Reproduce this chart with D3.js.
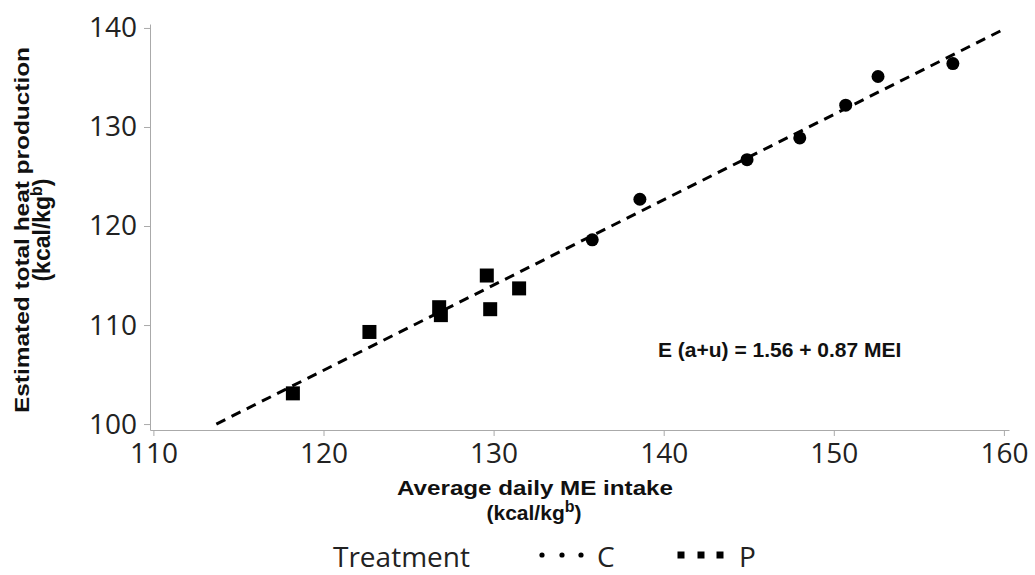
<!DOCTYPE html>
<html>
<head>
<meta charset="utf-8">
<script src="https://cdn.jsdelivr.net/npm/d3@7"></script>
<style>
  body { margin: 0; background: #fff; }
  .axis path, .axis line { stroke: #aaa; }
  .axis text { font-family: "Open Sans", sans-serif; font-size: 28px; fill: #222; }
  .title { font-family: "Liberation Sans", Arial, sans-serif; font-weight: bold; font-size: 21px; fill: #111; }
</style>
</head>
<body>
<div id="chart"></div>
<script>
// treatment C (circles)
const cIntake = [135.8, 138.6, 144.9, 148.0, 150.7, 152.6, 157.0];
const cHeat   = [118.6, 122.7, 126.7, 128.9, 132.2, 135.1, 136.4];
// treatment P (squares)
const pIntake = [118.2, 122.7, 126.8, 126.9, 129.6, 129.8, 131.5];
const pHeat   = [103.1, 109.3, 111.8, 111.0, 115.0, 111.6, 113.7];
// fitted line end points
const fitX = [113.7, 159.8];
const fitY = [100.0, 139.7];
const xTicks = [110, 120, 130, 140, 150, 160];
const yTicks = [100, 110, 120, 130, 140];

const width = 1035, height = 575;

const svg = d3.select("#chart")
  .append("svg")
    .attr("width", width)
    .attr("height", height);

const x = d3.scaleLinear().domain([109.8, 160.3]).range([150, 1009]);
const y = d3.scaleLinear().domain([99.4, 140.4]).range([430, 24]);

// axes
svg.append("g")
  .attr("class", "axis")
  .attr("transform", "translate(0,430)")
  .call(d3.axisBottom(x).tickValues(xTicks).tickSize(6).tickSizeOuter(0).tickPadding(7));

svg.append("g")
  .attr("class", "axis")
  .attr("transform", "translate(150,0)")
  .call(d3.axisLeft(y).tickValues(yTicks).tickSize(6).tickSizeOuter(0).tickPadding(7));

// dashed fit line
const fit = fitX.map(function (d, i) { return [d, fitY[i]]; });
svg.append("path")
  .datum(fit)
  .attr("fill", "none")
  .attr("stroke", "#000")
  .attr("stroke-width", 3)
  .attr("stroke-dasharray", "10,7")
  .attr("d", d3.line().x(function (d) { return x(d[0]); }).y(function (d) { return y(d[1]); }));

// circles
svg.selectAll(".ptC")
  .data(cIntake)
  .enter().append("circle")
  .attr("class", "ptC")
  .attr("cx", function (d) { return x(d); })
  .attr("cy", function (d, i) { return y(cHeat[i]); })
  .attr("r", 6.5)
  .attr("fill", "#000");

// squares
const sq = 14;
svg.selectAll(".ptP")
  .data(pIntake)
  .enter().append("rect")
  .attr("class", "ptP")
  .attr("x", function (d) { return x(d) - sq / 2; })
  .attr("y", function (d, i) { return y(pHeat[i]) - sq / 2; })
  .attr("width", sq)
  .attr("height", sq)
  .attr("fill", "#000");

// equation
svg.append("text")
  .attr("class", "title")
  .attr("x", 658)
  .attr("y", 357)
  .attr("font-size", "20px")
  .text("E (a+u) = 1.56 + 0.87 MEI");

// y title
const yt = svg.append("text")
  .attr("class", "title")
  .attr("text-anchor", "middle")
  .attr("transform", "translate(0,230) rotate(-90)");
yt.append("tspan").attr("x", 0).attr("y", 29)
  .attr("textLength", 366).attr("lengthAdjust", "spacingAndGlyphs")
  .text("Estimated total heat production");
const yt2 = yt.append("tspan").attr("x", 0).attr("y", 50).attr("font-size", "23px");
yt2.append("tspan").text("(kcal/kg");
yt2.append("tspan").attr("dy", -8).attr("font-size", "16px").text("b");
yt2.append("tspan").attr("dy", 8).text(")");

// x title
svg.append("text")
  .attr("class", "title")
  .attr("text-anchor", "middle")
  .attr("x", 535).attr("y", 495)
  .attr("textLength", 276).attr("lengthAdjust", "spacingAndGlyphs")
  .text("Average daily ME intake");
const xt = svg.append("text")
  .attr("class", "title")
  .attr("text-anchor", "middle")
  .attr("font-size", "23px")
  .attr("x", 534).attr("y", 520);
xt.append("tspan").text("(kcal/kg");
xt.append("tspan").attr("dy", -8).attr("font-size", "16px").text("b");
xt.append("tspan").attr("dy", 8).text(")");

// legend
const legendFamily = "Open Sans, sans-serif";
svg.append("text")
  .attr("x", 333).attr("y", 567)
  .attr("font-family", legendFamily).attr("font-size", "28px").attr("fill", "#222")
  .text("Treatment");

const legItems = ["C", "P"];
const legX = [542, 681];
legItems.forEach(function (k, i) {
  const g = svg.append("g").attr("transform", "translate(" + legX[i] + ",555)");
  [0, 20, 39].forEach(function (dx) {
    if (k === "C") {
      g.append("circle").attr("cx", dx).attr("cy", 0).attr("r", 2.6).attr("fill", "#000");
    } else {
      g.append("rect").attr("x", dx - 3.5).attr("y", -3.5).attr("width", 7).attr("height", 7).attr("fill", "#000");
    }
  });
  g.append("text")
    .attr("x", k === "C" ? 55 : 58).attr("y", 12)
    .attr("font-family", legendFamily).attr("font-size", "28px").attr("fill", "#222")
    .text(k);
});
</script>
</body>
</html>
